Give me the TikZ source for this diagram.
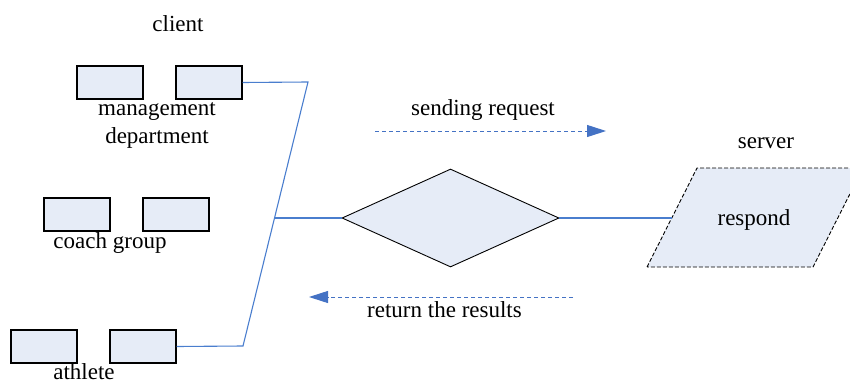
\documentclass[tikz,border=0pt]{standalone}
\usepackage{fontspec}
\setmainfont{Liberation Serif}
\usetikzlibrary{shapes.geometric,arrows.meta}
\definecolor{boxfill}{RGB}{230,236,247}
\definecolor{linkblue}{RGB}{74,126,206}
\definecolor{arrblue}{RGB}{68,114,196}
\tikzset{
  x=1pt,y=1pt,
  member/.style={draw=black,line width=1.2pt,fill=boxfill,minimum width=66pt,minimum height=33pt,inner sep=0pt},
  lbl/.style={font=\fontsize{23}{28}\selectfont,anchor=base,inner sep=0pt},
  link/.style={draw=linkblue,line width=1.1pt},
  flow/.style={draw=arrblue,line width=1pt,dash pattern=on 4pt off 3pt,-{Triangle[length=19pt,width=12pt,fill=arrblue]}}
}
\begin{document}
\begin{tikzpicture}
\useasboundingbox (0,0) rectangle (850,381);
\clip (0,0) rectangle (850,381);
% client boxes
\node[member] (m1) at (110,298.5) {};
\node[member] (m2) at (209,298.5) {};
\node[member] (c1) at (77,166.5) {};
\node[member] (c2) at (176,166.5) {};
\node[member] (a1) at (44,34.5) {};
\node[member] (a2) at (143,34.5) {};
% labels
\node[lbl] (tclient) at (178,349) {client};
\node[lbl] (tman) at (157,266) {management};
\node[lbl] (tdep) at (157,238) {department};
\node[lbl] (tcoach) at (110,133) {coach group};
\node[lbl] (tath) at (84,2) {athlete};
\node[lbl] (tsend) at (483,266) {sending request};
\node[lbl] (tret) at (444.5,64) {return the results};
\node[lbl] (tserver) at (766,233) {server};
% diamond
\node[draw=black,line width=0.9pt,fill=boxfill,shape=diamond,aspect=2.214,minimum width=217pt,minimum height=98pt,inner sep=0pt] (dia) at (450.5,163) {};
% server parallelogram
\coordinate (pbl) at (647,114);
\coordinate (ptl) at (697,213);
\coordinate (ptr) at (863,213);
\coordinate (pbr) at (813,114);
\draw[fill=boxfill,draw=black,line width=0.9pt,dash pattern=on 4pt off 2pt] (pbl) -- (ptl) -- (ptr) -- (pbr) -- cycle;
\coordinate (srvL) at (672,163);
\node[lbl] (tresp) at (754,156) {respond};
% links
\coordinate (tp) at (308,299);
\coordinate (bt) at (243,35);
\coordinate (jn) at (274.5,163);
\draw[link] (m2.east) -- (tp) -- (bt) -- (a2.east);
\draw[link] (jn) -- (dia.west);
\draw[link] (dia.east) -- (srvL);
% flow arrows
\coordinate (s1) at (375,250);
\coordinate (s2) at (606,250);
\coordinate (r1) at (573,84);
\coordinate (r2) at (309,84);
\draw[flow] (s1) -- (s2);
\draw[flow] (r1) -- (r2);
\end{tikzpicture}
\end{document}
